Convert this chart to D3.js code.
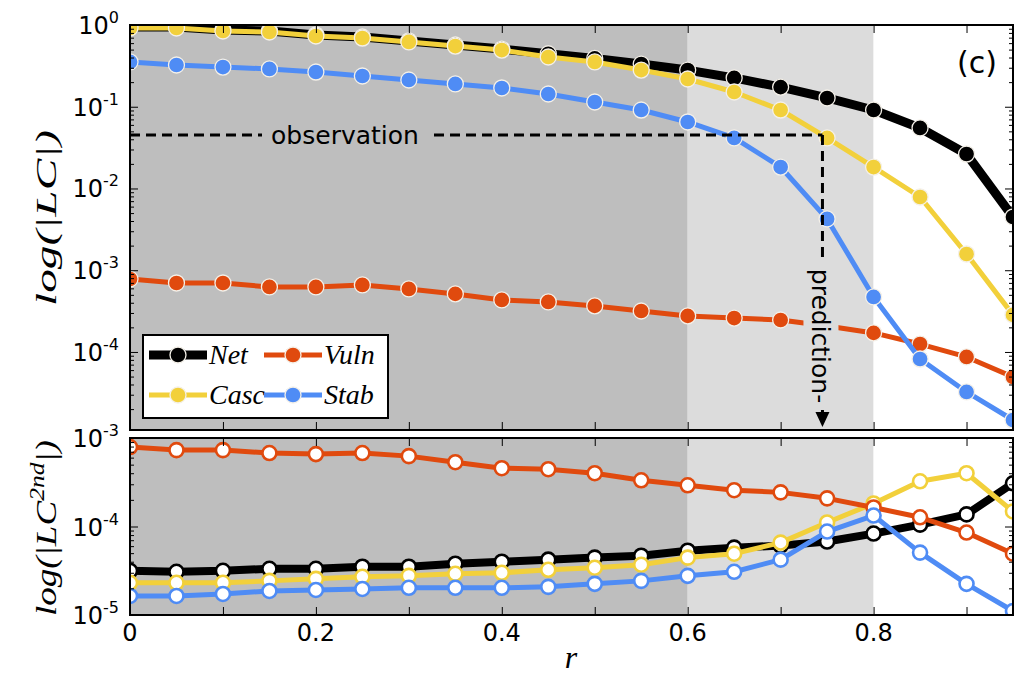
<!DOCTYPE html>
<html><head><meta charset="utf-8">
<script src="https://cdn.jsdelivr.net/npm/d3@7"></script>
<style>body{margin:0;background:#fff}svg{display:block}</style>
</head><body><div id="chart"></div>
<script>
// ---------- data ----------
const rValues = [0, 0.05, 0.1, 0.15, 0.2, 0.25, 0.3, 0.35, 0.4, 0.45, 0.5, 0.55, 0.6, 0.65, 0.7, 0.75, 0.8, 0.85, 0.9, 0.95];
const seriesNames = ["Net", "Casc", "Vuln", "Stab"];
// first-order |LC| (top panel)
const netLC  = [0.945, 0.945, 0.869, 0.845, 0.755, 0.713, 0.638, 0.569, 0.508, 0.445, 0.39, 0.333, 0.281, 0.225, 0.174, 0.128, 0.0912, 0.055, 0.0264, 0.00448];
const cascLC = [0.919, 0.919, 0.845, 0.821, 0.734, 0.693, 0.620, 0.553, 0.494, 0.406, 0.353, 0.281, 0.2185, 0.1515, 0.0912, 0.0415, 0.0183, 0.00787, 0.00158, 0.000284];
const vulnLC = [7.81e-4, 6.98e-4, 6.98e-4, 6.24e-4, 6.24e-4, 6.6e-4, 5.9e-4, 5.13e-4, 4.33e-4, 4.09e-4, 3.66e-4, 3.17e-4, 2.76e-4, 2.6e-4, 2.46e-4, 2.08e-4, 1.71e-4, 1.25e-4, 8.69e-5, 4.94e-5];
const stabLC = [0.353, 0.324, 0.306, 0.290, 0.266, 0.2377, 0.2124, 0.190, 0.1696, 0.1432, 0.1143, 0.0912, 0.0651, 0.0415, 0.0183, 0.00424, 0.000471, 8.2e-5, 3.24e-5, 1.47e-5];
// second-order |LC^2nd| (bottom panel)
const netLC2  = [3.16e-5, 3.08e-5, 3.16e-5, 3.33e-5, 3.33e-5, 3.51e-5, 3.51e-5, 3.8e-5, 4.0e-5, 4.22e-5, 4.45e-5, 4.68e-5, 5.33e-5, 5.77e-5, 6.08e-5, 6.76e-5, 8.32e-5, 1.05e-4, 1.37e-4, 3.08e-4];
const cascLC2 = [2.31e-5, 2.31e-5, 2.31e-5, 2.43e-5, 2.56e-5, 2.7e-5, 2.77e-5, 2.92e-5, 3.0e-5, 3.24e-5, 3.42e-5, 3.7e-5, 4.45e-5, 4.93e-5, 6.58e-5, 1.11e-4, 1.82e-4, 3.24e-4, 4.0e-4, 1.48e-4];
const vulnLC2 = [7.9e-4, 7.3e-4, 7.3e-4, 6.76e-4, 6.58e-4, 6.76e-4, 6.24e-4, 5.33e-4, 4.56e-4, 4.44e-4, 4.0e-4, 3.33e-4, 2.92e-4, 2.57e-4, 2.43e-4, 2.08e-4, 1.64e-4, 1.27e-4, 8.55e-5, 4.93e-5];
const stabLC2 = [1.64e-5, 1.64e-5, 1.73e-5, 1.87e-5, 1.92e-5, 1.97e-5, 2.03e-5, 2.03e-5, 2.03e-5, 2.08e-5, 2.25e-5, 2.43e-5, 2.77e-5, 3.08e-5, 4.22e-5, 8.77e-5, 1.33e-4, 5.07e-5, 2.25e-5, 1.11e-5];
// regions and ticks
const regionBounds = [0, 0.6, 0.8, 0.95];
const xTicks = [0, 0.1, 0.2, 0.3, 0.4, 0.5, 0.6, 0.7, 0.8, 0.9];
const xTickLabels = ["0", "0.2", "0.4", "0.6", "0.8"];
const xTickLabelValues = [0, 0.2, 0.4, 0.6, 0.8];
const topYTicks = [1, 1e-1, 1e-2, 1e-3, 1e-4];
const topYExps = ["0", "-1", "-2", "-3", "-4"];
const botYTicks = [1e-3, 1e-4, 1e-5];
const botYExps = ["-3", "-4", "-5"];
const observationLevel = 0.0451;
const predictionR = 0.745;

// ---------- styles ----------
const colors = {Net: "#000000", Casc: "#f2d03b", Vuln: "#e04a0e", Stab: "#4f8cf5"};
const regionColors = ["#bebebe", "#dcdcdc", "#ffffff"];
const topWidths = {Net: 9, Casc: 5, Vuln: 5, Stab: 5};
const botWidths = {Net: 8, Casc: 5, Vuln: 5, Stab: 5};
const tickFont = "'DejaVu Sans', sans-serif";
const mathFont = "'Liberation Serif', 'Times New Roman', serif";

const W = 1024, H = 678;
const svg = d3.select("#chart").append("svg").attr("width", W).attr("height", H);
const x = d3.scaleLinear().domain([0, 0.95]).range([130, 1013]);
const yTop = d3.scaleLog().domain([1.11e-5, 1]).range([430, 25]);
const yBot = d3.scaleLog().domain([1e-5, 1e-3]).range([615, 438]);

const topData = {Net: netLC, Casc: cascLC, Vuln: vulnLC, Stab: stabLC};
const botData = {Net: netLC2, Casc: cascLC2, Vuln: vulnLC2, Stab: stabLC2};

function panel(id, y, data, widths, filled) {
  const [y0, y1] = [y.range()[1], y.range()[0]];
  const x0 = x.range()[0], x1 = x.range()[1];
  svg.append("clipPath").attr("id", id).append("rect")
    .attr("x", x0).attr("y", y0).attr("width", x1 - x0).attr("height", y1 - y0);
  const g = svg.append("g").attr("clip-path", `url(#${id})`);
  g.selectAll("rect.reg").data(d3.range(regionBounds.length - 1)).join("rect")
    .attr("x", i => x(regionBounds[i])).attr("width", i => x(regionBounds[i + 1]) - x(regionBounds[i]))
    .attr("y", y0).attr("height", y1 - y0).attr("fill", i => regionColors[i]);
  const line = d3.line().x((d, i) => x(rValues[i])).y(d => y(d));
  seriesNames.forEach(name => {
    const vals = data[name];
    g.append("path").attr("d", line(vals)).attr("fill", "none")
      .attr("stroke", colors[name]).attr("stroke-width", widths[name]).attr("stroke-linejoin", "round");
    g.selectAll(null).data(vals).join("circle")
      .attr("cx", (d, i) => x(rValues[i])).attr("cy", d => y(d))
      .attr("r", filled ? 8 : 7)
      .attr("fill", filled ? colors[name] : "#fff")
      .attr("stroke", filled ? "#f4f0e8" : colors[name])
      .attr("stroke-width", filled ? 1.3 : 2.6);
  });
  return g;
}

function axes(y, y0, y1, majors) {
  const ax = svg.append("g");
  const mk = (axis, tx, ty) => {
    const a = ax.append("g").attr("transform", `translate(${tx},${ty})`).call(axis);
    a.select(".domain").remove();
    a.selectAll("text").remove();
    a.selectAll("line").attr("stroke", "#000").attr("stroke-width", 1);
  };
  mk(d3.axisBottom(x).tickValues(xTicks).tickSize(-8), 0, y1);
  mk(d3.axisTop(x).tickValues(xTicks).tickSize(-8), 0, y0);
  const minors = y.ticks().filter(v => !majors.some(m => Math.abs(Math.log10(v) - Math.log10(m)) < 1e-6));
  mk(d3.axisLeft(y).tickValues(majors).tickSize(-8), x.range()[0], 0);
  mk(d3.axisLeft(y).tickValues(minors).tickSize(-4), x.range()[0], 0);
  mk(d3.axisRight(y).tickValues(majors).tickSize(-8), x.range()[1], 0);
  mk(d3.axisRight(y).tickValues(minors).tickSize(-4), x.range()[1], 0);
  ax.append("rect").attr("x", x.range()[0]).attr("y", y0).attr("width", x.range()[1] - x.range()[0])
    .attr("height", y1 - y0).attr("fill", "none").attr("stroke", "#000").attr("stroke-width", 2);
}

function yLabels(y, ticks, exps) {
  ticks.forEach((v, i) => {
    const t = svg.append("text").attr("x", 119).attr("y", y(v) + 9)
      .attr("text-anchor", "end").attr("font-family", tickFont).attr("font-size", 24).attr("fill", "#000");
    t.append("tspan").text("10");
    t.append("tspan").attr("dy", -11).attr("font-size", 16).text(exps[i]);
  });
}

// ---------- top panel ----------
panel("clipTop", yTop, topData, topWidths, true);

// observation / prediction annotation
const ann = svg.append("g");
const obsY = yTop(observationLevel), predX = x(predictionR);
ann.append("line").attr("x1", x(0)).attr("x2", predX).attr("y1", obsY).attr("y2", obsY)
  .attr("stroke", "#000").attr("stroke-width", 3).attr("stroke-dasharray", "10,6");
ann.append("line").attr("x1", predX).attr("x2", predX).attr("y1", obsY).attr("y2", 414)
  .attr("stroke", "#000").attr("stroke-width", 3).attr("stroke-dasharray", "10,6");
ann.append("rect").attr("x", 262).attr("y", obsY - 14).attr("width", 166).attr("height", 28).attr("fill", regionColors[0]);
ann.append("text").attr("x", 345).attr("y", obsY).attr("dy", "0.35em").attr("text-anchor", "middle")
  .attr("font-family", tickFont).attr("font-size", 25).text("observation");
ann.append("rect").attr("x", predX - 19).attr("y", 262).attr("width", 35).attr("height", 148).attr("fill", regionColors[1]);
ann.append("text").attr("transform", `translate(${predX - 2},336) rotate(90)`).attr("dy", "0.35em")
  .attr("text-anchor", "middle").attr("font-family", tickFont).attr("font-size", 25).text("prediction-");
ann.append("path").attr("d", `M${predX - 7},412 L${predX + 7},412 L${predX},427 Z`).attr("fill", "#000");

axes(yTop, 25, 430, topYTicks);
yLabels(yTop, topYTicks, topYExps);

// panel tag
svg.append("text").attr("x", 977).attr("y", 73).attr("text-anchor", "middle")
  .attr("font-family", tickFont).attr("font-size", 30).text("(c)");

// legend
const lg = svg.append("g");
lg.append("rect").attr("x", 143).attr("y", 335).attr("width", 245).attr("height", 83)
  .attr("fill", "#fff").attr("stroke", "#000").attr("stroke-width", 2);
const legendPos = {Net: [149, 355], Casc: [149, 395], Vuln: [264, 355], Stab: [264, 395]};
seriesNames.forEach(name => {
  const [lx, ly] = legendPos[name];
  lg.append("line").attr("x1", lx).attr("x2", lx + 58).attr("y1", ly).attr("y2", ly)
    .attr("stroke", colors[name]).attr("stroke-width", topWidths[name]);
  lg.append("circle").attr("cx", lx + 29).attr("cy", ly).attr("r", 8).attr("fill", colors[name])
    .attr("stroke", "#f4f0e8").attr("stroke-width", 1.3);
  lg.append("text").attr("x", lx + 60).attr("y", ly + 9).attr("font-family", mathFont)
    .attr("font-style", "italic").attr("font-size", 28).text(name);
});

// ---------- bottom panel ----------
panel("clipBot", yBot, botData, botWidths, false);
axes(yBot, 438, 615, botYTicks);
yLabels(yBot, botYTicks, botYExps);

// x tick labels
svg.selectAll("text.xt").data(xTickLabelValues).join("text")
  .attr("x", d => x(d)).attr("y", 641).attr("text-anchor", "middle")
  .attr("font-family", tickFont).attr("font-size", 24).text((d, i) => xTickLabels[i]);
svg.append("text").attr("x", 571).attr("y", 668).attr("text-anchor", "middle")
  .attr("font-family", mathFont).attr("font-style", "italic").attr("font-size", 32).text("r");

// y axis titles, stretched along their direction to span the panel like the reference
function yTitle(bx, cy, span, build) {
  const t = svg.append("text").attr("text-anchor", "middle")
    .attr("font-family", mathFont).attr("font-style", "italic").attr("font-size", 29);
  build(t);
  const w = t.node().getBBox().width;
  t.attr("transform", `translate(${bx},${cy}) rotate(-90) scale(${span / w},1)`);
}
yTitle(56, 218, 176, t => t.append("tspan").text("log(|LC|)"));
yTitle(56, 528, 176, t => {
  t.append("tspan").text("log(|LC");
  t.append("tspan").attr("dy", -12).attr("font-size", 20).text("2nd");
  t.append("tspan").attr("dy", 12).text("|)");
});
</script>
</body></html>
